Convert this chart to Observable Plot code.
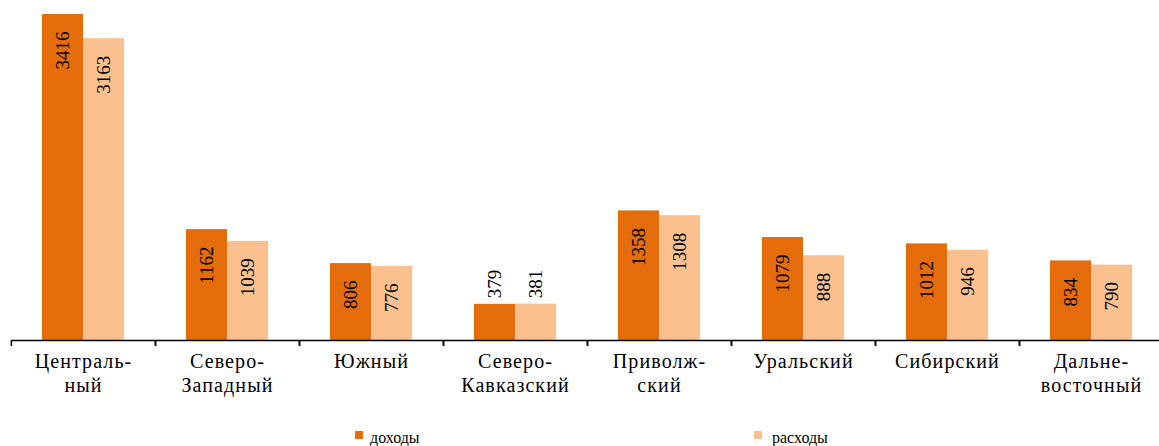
<!DOCTYPE html>
<html>
<head>
<meta charset="utf-8">
<script src="https://cdn.jsdelivr.net/npm/d3@7"></script>
<script src="https://cdn.jsdelivr.net/npm/@observablehq/plot@0.6"></script>
<style>
  html, body { margin: 0; padding: 0; background: #fff; }
  #chart { width: 1159px; height: 420px; overflow: hidden; }
  #chart svg g[aria-label="fx-axis tick label"] text { letter-spacing: 1.1px; }
  .legend { position: relative; width: 1159px; height: 26px; font-family: "Liberation Serif", serif; font-size: 16px; line-height: 16px; color: #000; }
  .legend .sw { position: absolute; top: 11px; width: 8px; height: 8px; }
  .legend .lb { position: absolute; top: 10px; white-space: nowrap; }
</style>
</head>
<body>
<div id="chart"></div>
<script>
const regions = ["Централь-\nный", "Северо-\nЗападный", "Южный", "Северо-\nКавказский", "Приволж-\nский", "Уральский", "Сибирский", "Дальне-\nвосточный"];
const series = ["доходы", "расходы"];
const income = [3416, 1162, 806, 379, 1358, 1079, 1012, 834];
const expense = [3163, 1039, 776, 381, 1308, 888, 946, 790];
const colors = ["#E46C0A", "#FAC090"];

const data = [];
regions.forEach((r, i) => {
  data.push({region: r, series: series[0], value: income[i]});
  data.push({region: r, series: series[1], value: expense[i]});
});

const width = 1159, height = 420;
const marginLeft = 10, marginRight = -5, marginTop = 6, marginBottom = 80;
const yMax = 3500;
const bw = (width - marginLeft - marginRight) / regions.length;
const tickUnits = 6 * yMax / (height - marginTop - marginBottom);

const chart = Plot.plot({
  width, height, marginLeft, marginRight, marginTop, marginBottom,
  style: {fontFamily: "Liberation Serif, serif", color: "#000", background: "#fff"},
  fx: {domain: regions, paddingInner: 0, paddingOuter: 0, label: null},
  x: {domain: series, paddingInner: 0, paddingOuter: 0.72, axis: null},
  y: {domain: [0, yMax], axis: null},
  color: {domain: series, range: colors},
  marks: [
    Plot.barY(data, {fx: "region", x: "series", y: "value", fill: "series"}),
    Plot.text(data.filter(d => d.value >= 500), {fx: "region", x: "series", y: "value", text: d => String(d.value), rotate: -90, textAnchor: "end", dy: 17, fontSize: 19, fill: "#000"}),
    Plot.text(data.filter(d => d.value < 500), {fx: "region", x: "series", y: "value", text: d => String(d.value), rotate: -90, textAnchor: "start", dy: -6, fontSize: 19, fill: "#000"}),
    Plot.ruleY([0], {stroke: "#000", strokeWidth: 1.5}),
    Plot.ruleX([null], {x: null, y1: () => 0, y2: () => -tickUnits, dx: -bw / 2, stroke: "#000", strokeWidth: 1.5}),
    Plot.ruleX([null], {x: null, y1: () => 0, y2: () => -tickUnits, dx: bw / 2, stroke: "#000", strokeWidth: 1.5}),
    Plot.axisFx({anchor: "bottom", tickSize: 0, tickPadding: 11, fontSize: 20, lineHeight: 1.17, label: null})
  ]
});
document.getElementById("chart").appendChild(chart);

const legend = document.createElement("div");
legend.className = "legend";
const swatchX = [355, 754];
const labelX = [370, 772];
series.forEach((s, i) => {
  const sw = document.createElement("span");
  sw.className = "sw";
  sw.style.left = swatchX[i] + "px";
  sw.style.background = colors[i];
  const label = document.createElement("span");
  label.className = "lb";
  label.style.left = labelX[i] + "px";
  label.textContent = s;
  legend.appendChild(sw);
  legend.appendChild(label);
});
document.body.appendChild(legend);
</script>
</body>
</html>
